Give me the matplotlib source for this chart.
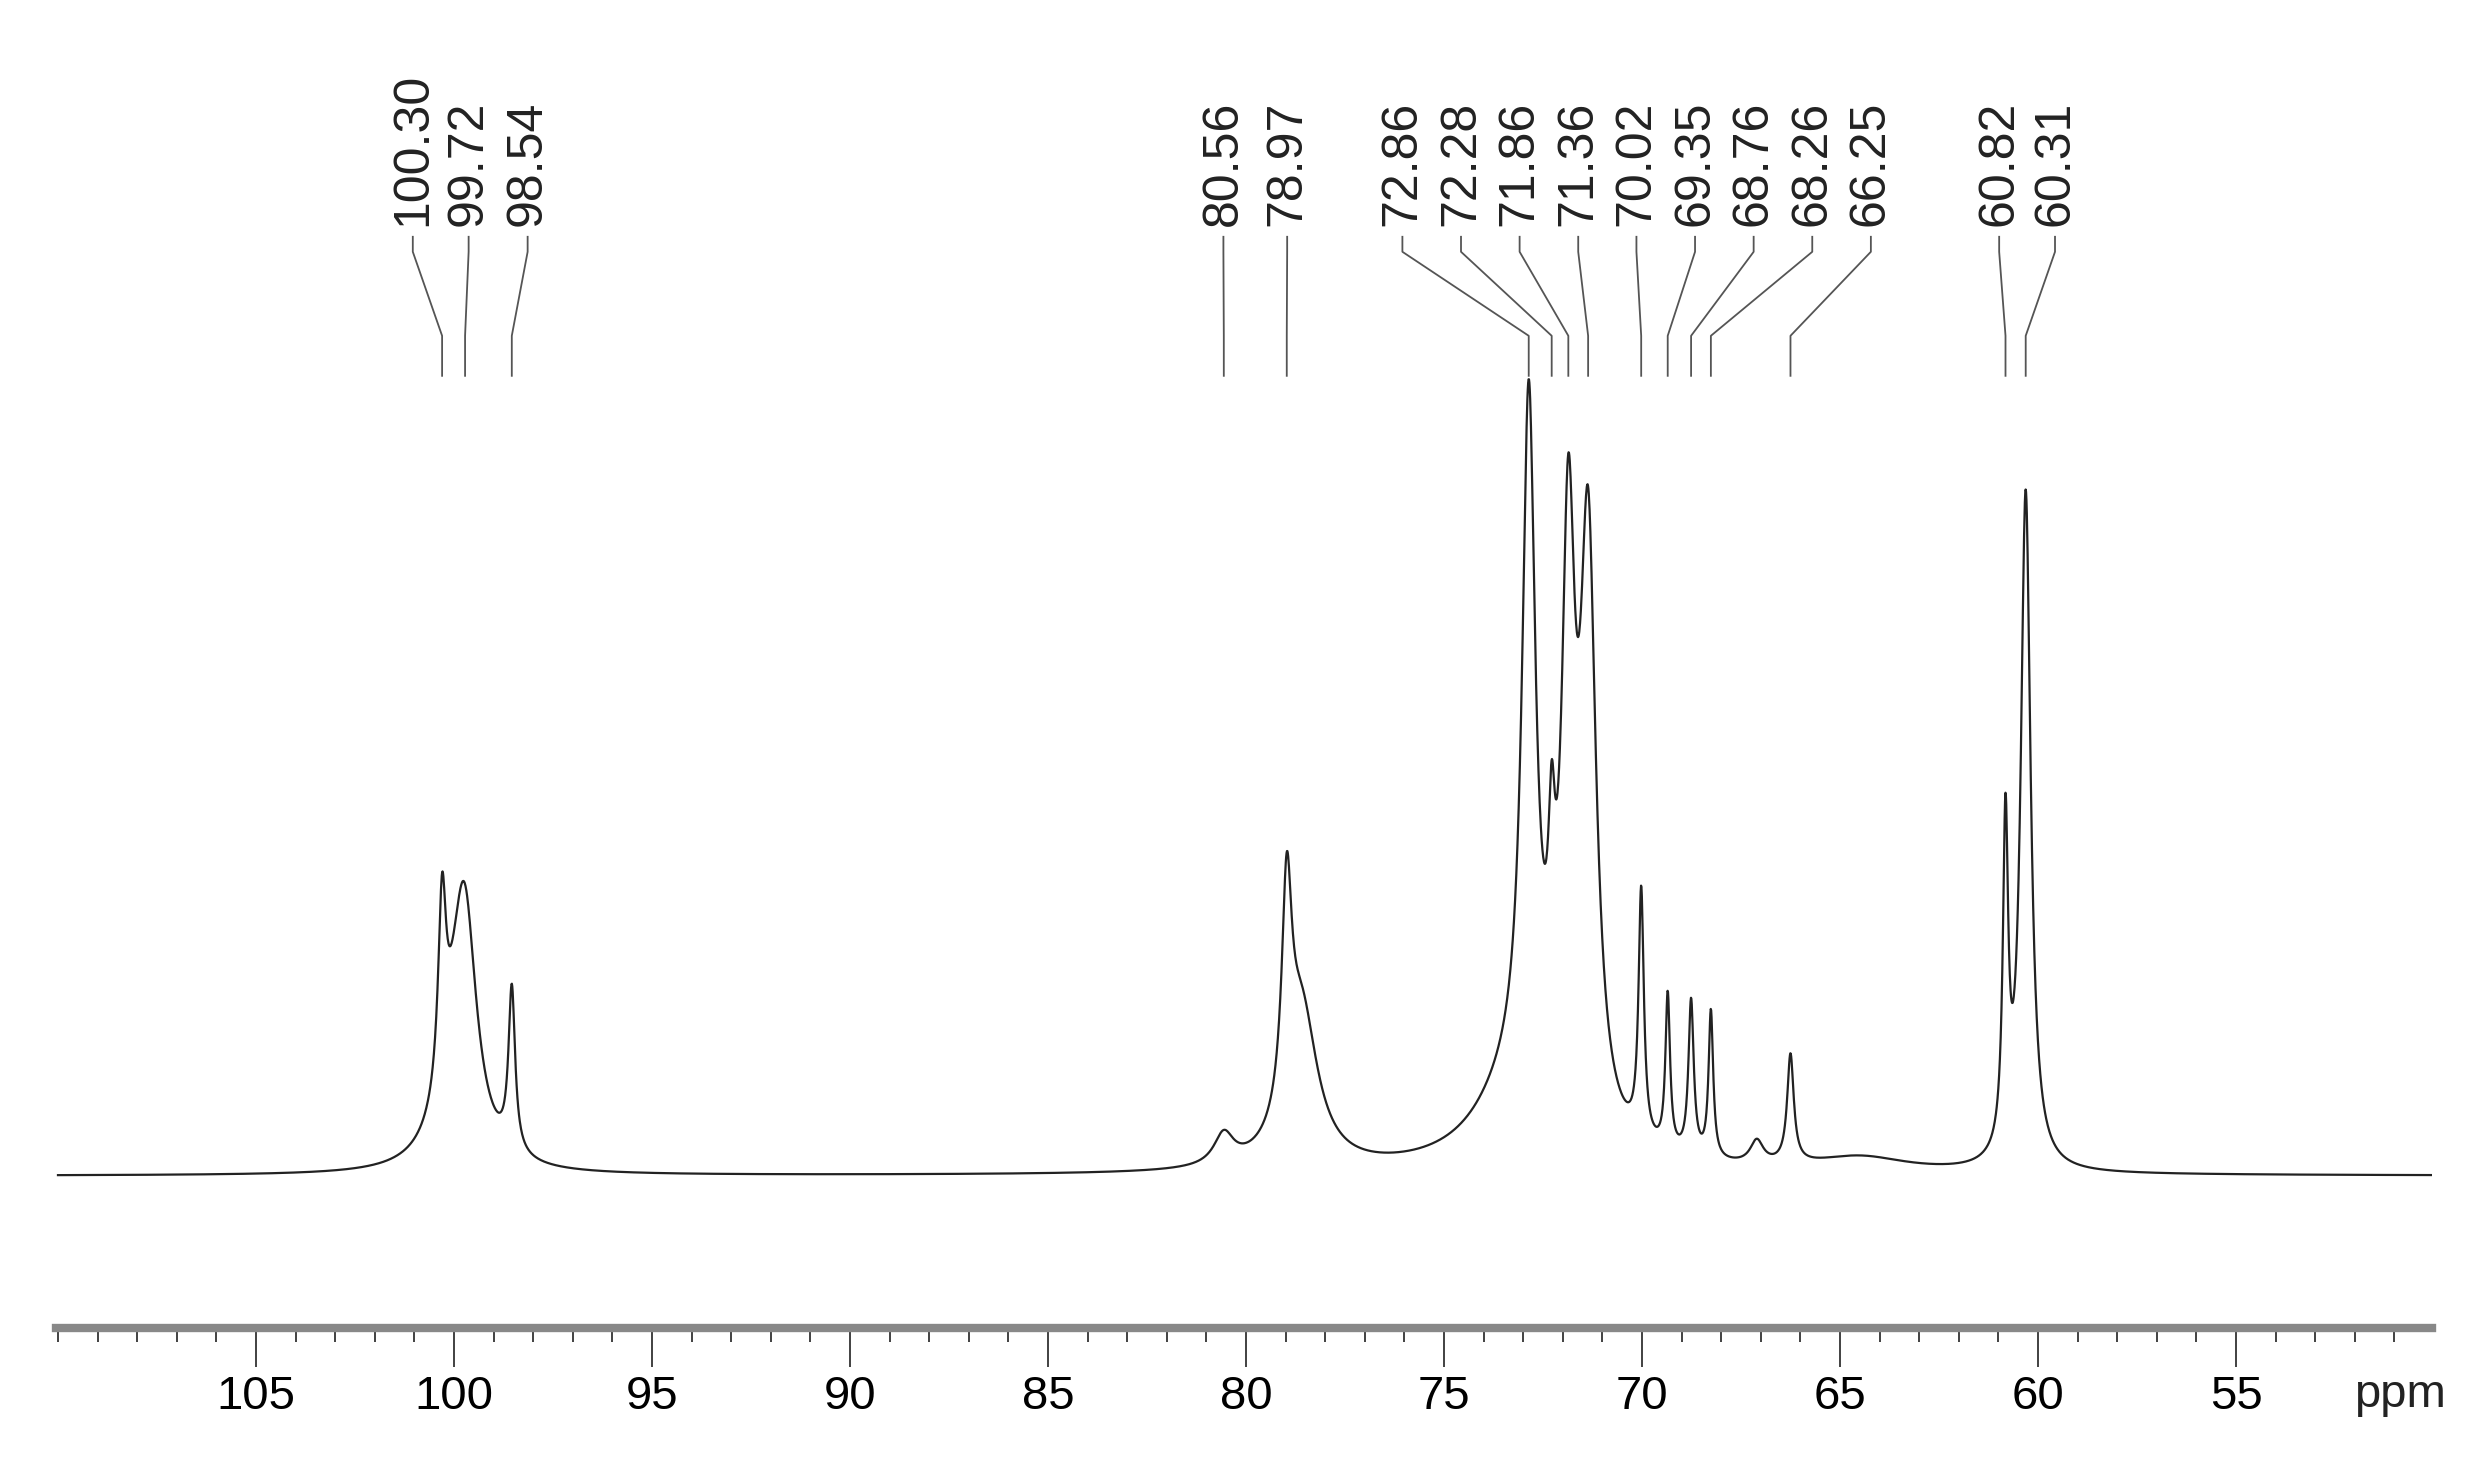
import numpy as np
import matplotlib.pyplot as plt
from matplotlib.ticker import MultipleLocator

# peak list: shift (ppm), amplitude, half width (ppm)
peak_ppm = [100.30, 99.72, 99.9, 98.54, 80.56, 78.97, 78.6, 72.86, 72.28, 71.86, 71.36,
            70.02, 69.35, 68.76, 68.26, 67.1, 66.25, 60.82, 60.31, 73.2, 64.5]
peak_amp = [0.24, 0.24, 0.14, 0.21, 0.04, 0.28, 0.20, 0.88, 0.20, 0.70, 0.74,
            0.32, 0.20, 0.20, 0.19, 0.03, 0.14, 0.42, 0.87, 0.10, 0.02]
peak_hw = [0.12, 0.35, 0.5, 0.10, 0.3, 0.15, 0.5, 0.2, 0.1, 0.2, 0.24,
           0.08, 0.07, 0.08, 0.07, 0.2, 0.1, 0.08, 0.15, 1.2, 1.5]

label_text = ['100.30', '99.72', '98.54', '80.56', '78.97', '72.86', '72.28', '71.86',
              '71.36', '70.02', '69.35', '68.76', '68.26', '66.25', '60.82', '60.31']
label_x = [101.04, 99.63, 98.14, 80.57, 78.96, 76.05, 74.57, 73.09, 71.61, 70.14,
           68.66, 67.18, 65.70, 64.22, 60.98, 59.57]

ppm = np.linspace(110, 50, 6000)
spec = np.zeros_like(ppm)
for c, a, w in zip(peak_ppm, peak_amp, peak_hw):
    spec += a * w**2 / ((ppm - c)**2 + w**2)

fig = plt.figure(figsize=(24.81, 14.84), dpi=100)
ax = fig.add_axes([56 / 2481, 1 - 1328 / 1484, (2432 - 56) / 2481, 1328 / 1484])
ax.plot(ppm, spec, color='#222222', lw=1.6)
ax.set_xlim(110.05, 50.05)
ax.set_ylim(-0.196, 1.515)

for s in ['top', 'left', 'right']:
    ax.spines[s].set_visible(False)
ax.spines['bottom'].set_color('#888888')
ax.spines['bottom'].set_linewidth(6)
ax.set_yticks([])
ax.xaxis.set_major_locator(MultipleLocator(5))
ax.xaxis.set_minor_locator(MultipleLocator(1))
ax.tick_params(axis='x', which='major', length=28, width=1.3, color='#333333',
               labelsize=34, pad=6)
ax.tick_params(axis='x', which='minor', length=10, width=1.3, color='#333333')
ax.set_xticks(range(105, 54, -5))
fam = ['Liberation Sans', 'DejaVu Sans']
for t in ax.get_xticklabels():
    t.set_family(fam)
ax.text(2400 / 2481, 1 - 1395 / 1484, 'ppm', transform=fig.transFigure, fontsize=34,
        family=fam, ha='center', va='center', color='#222222')

# peak labels with connector lines (y in figure px -> data)
def ydat(py):
    return -0.196 + (1328 - py) / 776.0

for txt, lx in zip(label_text, label_x):
    px = float(txt)
    ax.plot([px, px, lx, lx], [ydat(376), ydat(336), ydat(252), ydat(237)],
            color='#555555', lw=1.3, clip_on=False)
    ax.text(lx, ydat(226), txt, rotation=90, ha='center', va='bottom',
            fontsize=36, family=fam, color='#222222')

fig.savefig('out.png', dpi=100)
